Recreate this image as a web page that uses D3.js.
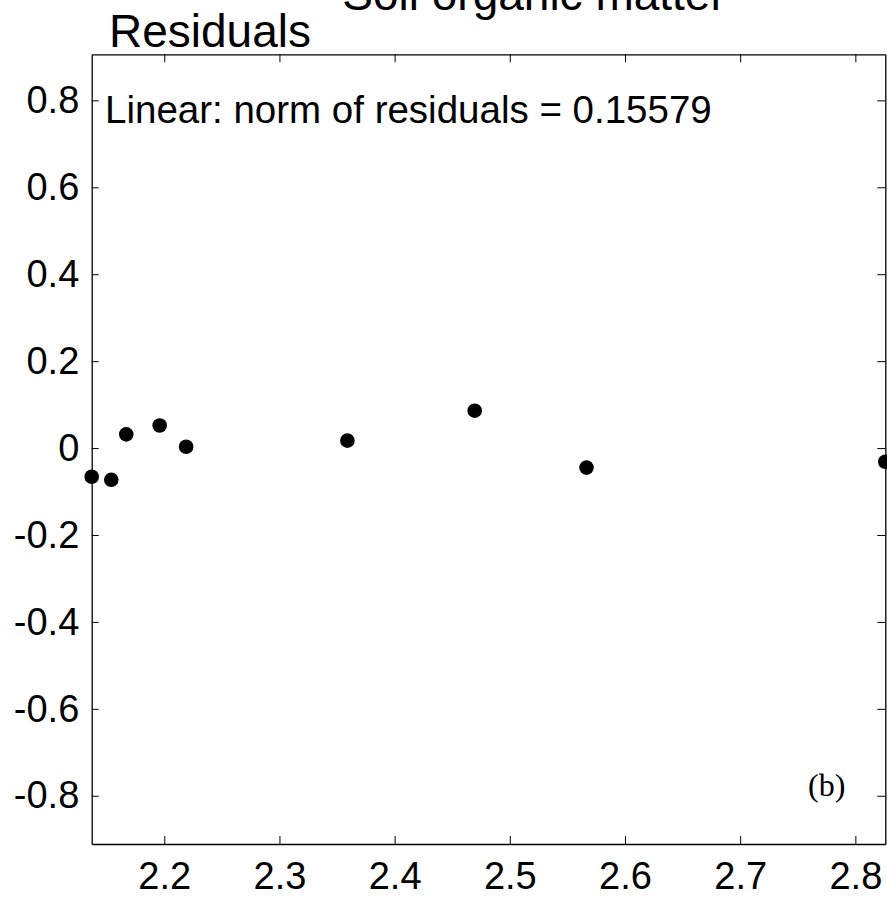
<!DOCTYPE html>
<html>
<head>
<meta charset="utf-8">
<script src="https://cdn.jsdelivr.net/npm/d3@7"></script>
<style>
  html, body { margin: 0; padding: 0; background: #fff; }
  text { font-family: "Liberation Sans", Arial, sans-serif; }
</style>
</head>
<body>
<div id="chart-container"></div>
<script>
// residuals of the linear fit
const xValues = [2.137, 2.154, 2.167, 2.196, 2.219, 2.359, 2.4695, 2.5666, 2.826];
const residuals = [-0.066, -0.073, 0.0315, 0.052, 0.003, 0.017, 0.086, -0.045, -0.0315];
const xTicks = [2.2, 2.3, 2.4, 2.5, 2.6, 2.7, 2.8];
const yTicks = [-0.8, -0.6, -0.4, -0.2, 0, 0.2, 0.4, 0.6, 0.8];
const xDomain = [2.137, 2.826];
const yDomain = [-0.911, 0.906];

const width = 887;
const height = 897;
const margin = { top: 54.3, right: 1.7, bottom: 53, left: 91.7 };

const svg = d3.select('#chart-container')
    .append('svg')
    .attr('width', width)
    .attr('height', height);

const x = d3.scaleLinear()
    .domain(xDomain)
    .range([margin.left, width - margin.right]);
const y = d3.scaleLinear()
    .domain(yDomain)
    .range([height - margin.bottom, margin.top]);

const fmt = (d) => String(d);

// bottom axis with labels
const gBottom = svg.append('g')
    .attr('transform', `translate(0, ${height - margin.bottom})`)
    .call(d3.axisBottom(x).tickValues(xTicks).tickFormat(fmt)
        .tickSizeInner(-8).tickSizeOuter(0).tickPadding(18));
// left axis with labels
const gLeft = svg.append('g')
    .attr('transform', `translate(${margin.left}, 0)`)
    .call(d3.axisLeft(y).tickValues(yTicks).tickFormat(fmt)
        .tickSizeInner(-7).tickSizeOuter(0).tickPadding(12.4));
// top and right: ticks only
const gTop = svg.append('g')
    .attr('transform', `translate(0, ${margin.top})`)
    .call(d3.axisTop(x).tickValues(xTicks).tickFormat('')
        .tickSizeInner(-8).tickSizeOuter(0));
const gRight = svg.append('g')
    .attr('transform', `translate(${width - margin.right}, 0)`)
    .call(d3.axisRight(y).tickValues(yTicks).tickFormat('')
        .tickSizeInner(-8).tickSizeOuter(0));

[gBottom, gLeft, gTop, gRight].forEach((g) => {
    g.selectAll('path.domain').attr('stroke', '#000').attr('stroke-width', 1.3);
    g.selectAll('.tick line').attr('stroke', '#000').attr('stroke-width', 1);
    g.selectAll('.tick text')
        .style('font-family', '"Liberation Sans", Arial, sans-serif')
        .style('font-size', '38px')
        .attr('fill', '#000');
});

// points
svg.append('g')
    .selectAll('circle')
    .data(xValues.map((d, i) => ({ x: d, r: residuals[i] })))
    .enter()
    .append('circle')
    .attr('cx', (d) => x(d.x))
    .attr('cy', (d) => y(d.r))
    .attr('r', 7.3)
    .attr('fill', '#000');

// texts
svg.append('text')
    .attr('x', 534)
    .attr('y', 10)
    .attr('text-anchor', 'middle')
    .style('font-size', '46px')
    .text('Soil organic matter');

svg.append('text')
    .attr('x', 109)
    .attr('y', 47)
    .style('font-size', '46px')
    .text('Residuals');

svg.append('text')
    .attr('x', 105)
    .attr('y', 123.3)
    .style('font-size', '38.5px')
    .text('Linear: norm of residuals = 0.15579');

svg.append('text')
    .attr('x', 808)
    .attr('y', 796)
    .style('font-family', '"Liberation Serif", "Times New Roman", serif')
    .style('font-size', '32px')
    .text('(b)');
</script>
</body>
</html>
